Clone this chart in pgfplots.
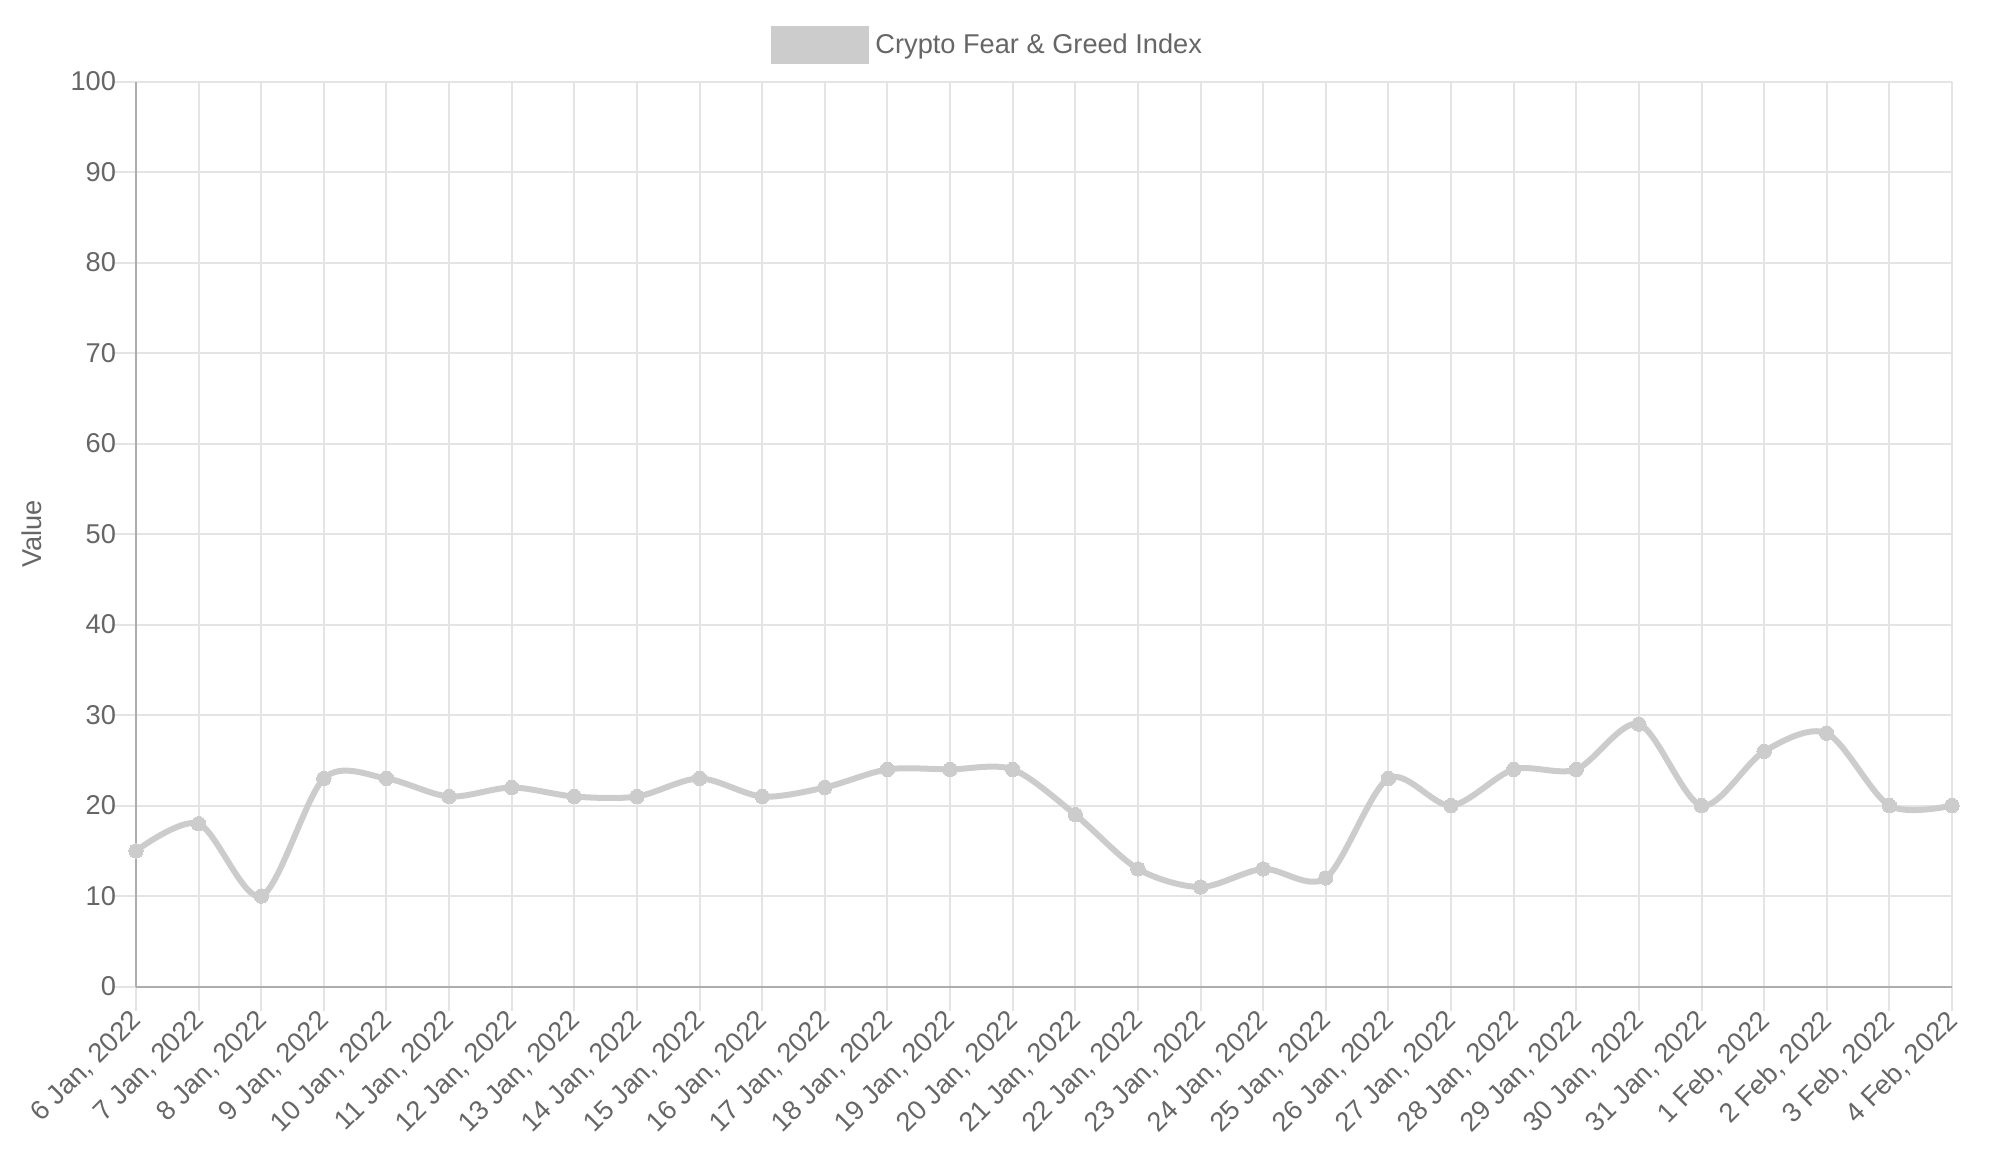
\documentclass[border=0pt]{standalone}
\usepackage{pgfplots}
\pgfplotsset{compat=1.18}
\usepackage{fontspec}
\setmainfont{Liberation Sans}
\definecolor{txt}{HTML}{666666}
\definecolor{gridc}{HTML}{E4E4E4}
\definecolor{axc}{HTML}{ADADAD}
\definecolor{linec}{HTML}{CCCCCC}
\begin{document}
\begin{tikzpicture}
\path[use as bounding box] (-68pt,-85.5pt) rectangle (931.5pt,493.3pt);
\begin{axis}[
  at={(0,0)}, anchor=south west,
  scale only axis,
  width=908pt, height=452.5pt,
  xmin=0, xmax=29, ymin=0, ymax=100,
  xtick={0,...,29},
  ytick={0,10,...,100},
  xticklabels={{6 Jan, 2022},{7 Jan, 2022},{8 Jan, 2022},{9 Jan, 2022},{10 Jan, 2022},{11 Jan, 2022},{12 Jan, 2022},{13 Jan, 2022},{14 Jan, 2022},{15 Jan, 2022},{16 Jan, 2022},{17 Jan, 2022},{18 Jan, 2022},{19 Jan, 2022},{20 Jan, 2022},{21 Jan, 2022},{22 Jan, 2022},{23 Jan, 2022},{24 Jan, 2022},{25 Jan, 2022},{26 Jan, 2022},{27 Jan, 2022},{28 Jan, 2022},{29 Jan, 2022},{30 Jan, 2022},{31 Jan, 2022},{1 Feb, 2022},{2 Feb, 2022},{3 Feb, 2022},{4 Feb, 2022}},
  axis x line*=bottom, axis y line*=left,
  axis line style={draw=axc, line width=1pt},
  grid=major,
  major grid style={draw=gridc, line width=1pt},
  tick align=outside,
  major tick length=12pt,
  tick style={draw=gridc, line width=1pt},
  /pgf/number format/assume math mode=true,
  tick label style={font=\fontsize{13.6}{15}\selectfont, text=txt},
  yticklabel style={xshift=5.5pt},
  xticklabel style={xshift=3pt, yshift=-0.5pt, rotate=45, anchor=east},
  every axis y label/.style={at={(axis description cs:0,0.5)}, xshift=-52pt, rotate=90, anchor=center, font=\fontsize{13.6}{15}\selectfont, text=txt},
  ylabel={Value},
  legend style={draw=none, fill=none, inner sep=0pt, at={(axis description cs:0.3497,1.0404)}, anchor=west, font=\fontsize{13.6}{15}\selectfont, text=txt, /tikz/every even column/.append style={column sep=0pt}},
  clip=false,
]
\addplot[color=linec, line width=3pt, smooth, tension=0.5, mark=*, mark size=3.6pt, mark options={fill=linec, draw=linec, line width=0pt},
  legend image code/.code={\fill[linec] (0pt,-8pt) rectangle (46pt,8pt);}]
coordinates {
(0,15) (1,18) (2,10) (3,23) (4,23) (5,21) (6,22) (7,21) (8,21) (9,23)
(10,21) (11,22) (12,24) (13,24) (14,24) (15,19) (16,13) (17,11) (18,13) (19,12)
(20,23) (21,20) (22,24) (23,24) (24,29) (25,20) (26,26) (27,28) (28,20) (29,20)
};
\addlegendentry{\hspace{1pt}Crypto Fear \& Greed Index}
\end{axis}
\end{tikzpicture}
\end{document}
